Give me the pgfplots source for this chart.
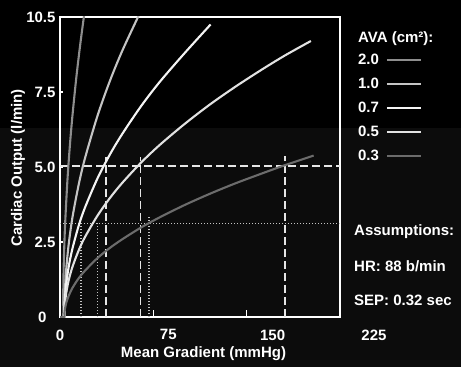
\documentclass[border=0pt]{standalone}
\usepackage{pgfplots}
\pgfplotsset{compat=1.18}
\usepackage{fontspec}
\setmainfont{Liberation Sans}
\definecolor{band}{HTML}{0C0C0C}
\definecolor{cA}{HTML}{8E8E8E}
\definecolor{cB}{HTML}{C4C4C4}
\definecolor{cC}{HTML}{F4F4F4}
\definecolor{cD}{HTML}{E2E2E2}
\definecolor{cE}{HTML}{6C6C6C}
\definecolor{guide}{HTML}{E6E6E6}
\newcommand{\bfs}{\bfseries\fontsize{15bp}{17bp}\selectfont}
\begin{document}
\begin{tikzpicture}[x=1bp,y=1bp]
\fill[black] (0,0) rectangle (461,367);
\fill[band] (0,0) rectangle (461,239);
\begin{axis}[
  at={(60bp,50bp)}, anchor=south west,
  scale only axis, width=280bp, height=300bp,
  xmin=0, xmax=225, ymin=0, ymax=10,
  axis line style={white, line width=1.6bp},
  tick align=inside,
  xtick pos=bottom, ytick pos=left,
  xtick={0,75,150,225},
  xticklabels={0,\hspace*{30bp}75,\hspace*{52bp}150,\hspace*{68bp}225},
  ytick={0,2.5,5,7.5,10},
  yticklabels={0\hspace*{9bp},2.5,5.0,7.5,10.5},
  xtick style={white, line width=1.2bp, /pgfplots/major tick length=7bp},
  ytick style={white, line width=1.2bp, /pgfplots/major tick length=3bp},
  tick label style={font=\bfs, text=white},
  xticklabel style={yshift=-9bp},
  yticklabel style={xshift=-1bp},
  xlabel={Mean Gradient (mmHg)},
  ylabel={Cardiac Output (l/min)},
  label style={font=\bfs, text=white},
  xlabel style={at={(axis description cs:0.5125,-0.123)}, anchor=center},
  ylabel style={at={(axis description cs:-0.15,0.497)}, anchor=center},
  legend style={at={(axis description cs:1.064,0.877)}, anchor=north west,
    draw=none, fill=none, text=white, font=\bfs,
    inner sep=0pt, row sep=11.9bp, column sep=7bp,
    nodes={inner sep=0pt}},
  legend cell align=left,
  legend plot pos=right,
  legend image code/.code={\draw[#1, line width=2bp] (0bp,0bp) -- (34bp,0bp);},
]
% guide lines
\addplot[guide, line width=1.5bp, dash pattern=on 8bp off 4bp, forget plot] coordinates {(0,5.03) (225,5.03)};
\addplot[guide, line width=1.5bp, dash pattern=on 8bp off 4bp, forget plot] coordinates {(37.1,0) (37.1,5.35)};
\addplot[guide, line width=1.5bp, dash pattern=on 8bp off 4bp, forget plot] coordinates {(64.5,0) (64.5,5.35)};
\addplot[guide, line width=1.5bp, dash pattern=on 8bp off 4bp, forget plot] coordinates {(180.6,0) (180.6,5.38)};
\addplot[guide!85!black, line width=1.1bp, dash pattern=on 1.3bp off 1.7bp, forget plot] coordinates {(0,3.13) (225,3.13)};
\addplot[guide!85!black, line width=1.1bp, dash pattern=on 1.3bp off 1.7bp, forget plot] coordinates {(16.9,0) (16.9,3.13)};
\addplot[guide!85!black, line width=1.1bp, dash pattern=on 1.3bp off 1.7bp, forget plot] coordinates {(29.8,0) (29.8,3.13)};
\addplot[guide!85!black, line width=1.1bp, dash pattern=on 1.3bp off 1.7bp, forget plot] coordinates {(71.5,0) (71.5,3.35)};
% AVA curves
\addplot[cA, line width=2.1bp, smooth] coordinates {(0,0) (2.5,0) (2.6,0.78) (3,1.73) (4,3.0) (6,4.58) (8,5.75) (10,6.71) (13,7.94) (16,9.0) (19,9.95) (20,10.25)};
\addlegendentry{2.0}
\addplot[cB, line width=2.1bp, smooth] coordinates {(0,0) (3.5,0) (3.6,0.41) (4,0.92) (5,1.59) (7,2.43) (10,3.32) (15,4.41) (20,5.28) (30,6.69) (40,7.86) (50,8.87) (62,9.94) (63,10.03)};
\addlegendentry{1.0}
\addplot[cC, line width=2.1bp, smooth] coordinates {(0,0) (3.5,0) (3.6,0.28) (4,0.63) (5,1.10) (7,1.68) (10,2.28) (15,3.04) (20,3.64) (30,4.61) (40,5.41) (50,6.10) (65,7.02) (80,7.83) (100,8.79) (121,9.75)};
\addlegendentry{0.7}
\addplot[cD, line width=2.1bp, smooth] coordinates {(0,0) (3.5,0) (3.6,0.21) (4,0.46) (5,0.80) (7,1.23) (10,1.67) (15,2.22) (20,2.66) (30,3.37) (40,3.96) (50,4.47) (65,5.14) (80,5.73) (100,6.43) (120,7.07) (140,7.65) (160,8.19) (180,8.70) (201.6,9.20)};
\addlegendentry{0.5}
\addplot[cE, line width=2.1bp, smooth] coordinates {(0,0) (3.5,0) (3.6,0.12) (4,0.27) (5,0.47) (7,0.71) (10,0.97) (15,1.29) (20,1.54) (30,1.96) (40,2.30) (50,2.59) (65,2.98) (80,3.32) (100,3.73) (120,4.10) (140,4.44) (160,4.75) (180,5.05) (203.8,5.38)};
\addlegendentry{0.3}
\end{axis}
\node[anchor=west, text=white, font=\bfs, inner sep=0pt] at (358,328) {AVA (cm²):};
\node[anchor=west, text=white, font=\bfs, inner sep=0pt] at (354,135) {Assumptions:};
\node[anchor=west, text=white, font=\bfs, inner sep=0pt] at (354,101) {HR: 88 b/min};
\node[anchor=west, text=white, font=\bfs, inner sep=0pt] at (354,67) {SEP: 0.32 sec};
\end{tikzpicture}
\end{document}
